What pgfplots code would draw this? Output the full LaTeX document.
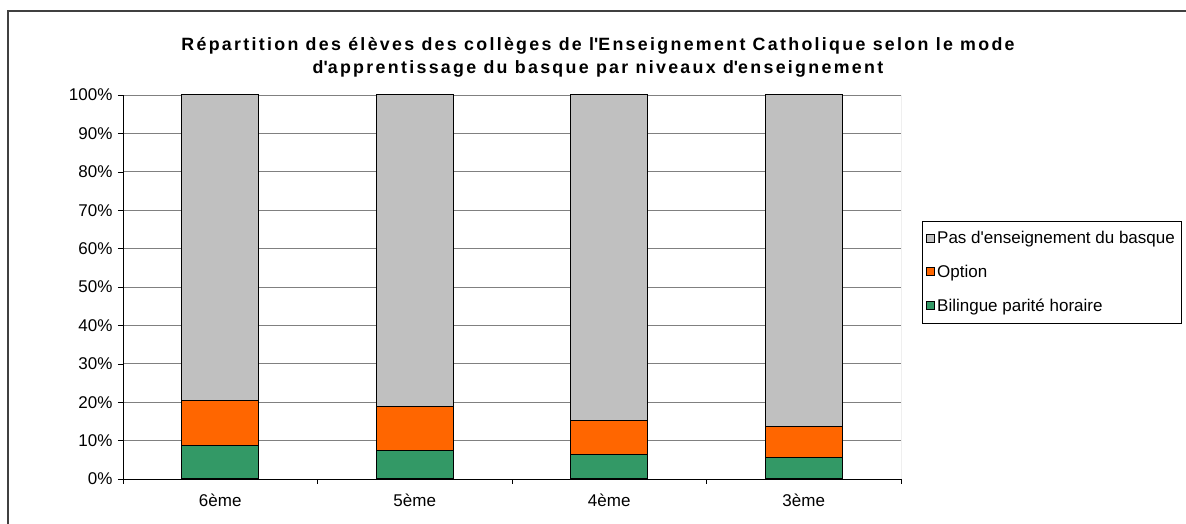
\documentclass[border=0pt]{standalone}
\usepackage{fontspec}
\setmainfont{Liberation Sans}
\usepackage{pgfplots}
\pgfplotsset{compat=1.18}
\definecolor{gris}{HTML}{C0C0C0}
\definecolor{orange}{HTML}{FF6600}
\definecolor{vert}{HTML}{339966}
\definecolor{grille}{HTML}{808080}
\begin{document}
\begin{tikzpicture}[x=1pt,y=1pt]
  \useasboundingbox (0,0) rectangle (1186,524);
  \draw[black!75,line width=1.4pt] (8,-10) rectangle (1200,513);
  \node[font=\fontsize{17.8}{23}\selectfont\bfseries\addfontfeatures{LetterSpace=13},align=center] at (598,467)
    {Répartition des élèves des collèges de l\textquotesingle Enseignement Catholique selon le mode\\
     d\textquotesingle apprentissage du basque par niveaux d\textquotesingle enseignement};

  \begin{axis}[
    at={(123pt,45pt)},anchor=south west,
    scale only axis,width=778pt,height=384pt,
    ybar stacked,bar width=77pt,
    xmin=-0.5,xmax=3.5,ymin=0,ymax=100,
    xtick={0,1,2,3},
    xticklabels={6ème,5ème,4ème,3ème},
    major x tick style={draw=none},
    minor xtick={-0.5,0.5,1.5,2.5,3.5},
    minor tick length=5pt,major tick length=5pt,
    ytick={0,10,...,100},
    yticklabel={\pgfmathprintnumber{\tick}\%},
    /pgf/number format/assume math mode=true,
    tick align=outside,
    axis x line*=bottom,axis y line*=left,
    axis line style={-,black},
    tick style={black},
    ymajorgrids,grid style={grille,line width=0.8pt},
    ticklabel style={font=\fontsize{17}{19}\selectfont},
    xticklabel style={yshift=-6pt},
    yticklabel style={xshift=-2pt},
    reverse legend,
    legend style={at={(1.027,0.672)},anchor=north west,draw=black,
      font=\fontsize{17}{19}\selectfont,row sep=16pt,
      inner xsep=4pt,inner ysep=8pt},
    legend cell align=left,
    legend image code/.code={\draw[#1,draw=black] (0pt,-4pt) rectangle (8pt,4pt);},
  ]
    \addplot[fill=vert,draw=black,line width=1pt] coordinates {(0,8.8) (1,7.5) (2,6.3) (3,5.5)};
    \addplot[fill=orange,draw=black,line width=1pt] coordinates {(0,11.7) (1,11.25) (2,9.0) (3,8.2)};
    \addplot[fill=gris,draw=black,line width=1pt] coordinates {(0,79.5) (1,81.25) (2,84.7) (3,86.3)};
    \legend{Bilingue parité horaire,Option,Pas d\textquotesingle enseignement du basque}
    \draw[grille,line width=0.8pt] (rel axis cs:1,0) -- (rel axis cs:1,1);
  \end{axis}
\end{tikzpicture}
\end{document}
